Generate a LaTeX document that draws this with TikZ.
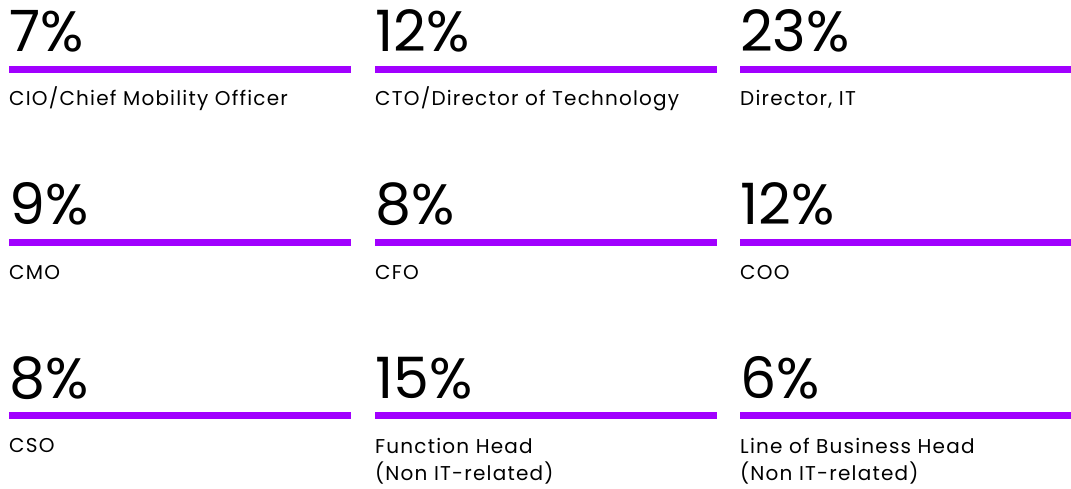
\documentclass[tikz,border=0pt]{standalone}
\usepackage{fontspec}
\setmainfont{Poppins}
\newfontfamily\lblfont[LetterSpace=6]{Poppins}
\definecolor{accpurple}{HTML}{A100FF}
\begin{document}
\begin{tikzpicture}[x=1pt,y=-1pt,
  pct/.style={anchor=base west,inner sep=0pt,font=\fontsize{57}{60}\selectfont},
  lbl/.style={anchor=base west,inner sep=0pt,align=left,font=\lblfont\fontsize{20}{27}\selectfont},
  barfill/.style={fill=accpurple}]
\useasboundingbox (0,0) rectangle (1071,489);
% row 1
\node[pct] (p11) at (9,52) {7\%};
\node[pct] (p12) at (375,52) {12\%};
\node[pct] (p13) at (740,52) {23\%};
\fill[barfill] (9,66) rectangle (351,73);
\fill[barfill] (375,66) rectangle (717,73);
\fill[barfill] (740,66) rectangle (1071,73);
\node[lbl] (l11) at (9,106) {CIO/Chief Mobility Officer};
\node[lbl] (l12) at (375,106) {CTO/Director of Technology};
\node[lbl] (l13) at (740,106) {Director, IT};
% row 2
\node[pct] (p21) at (9,225) {9\%};
\node[pct] (p22) at (375,225) {8\%};
\node[pct] (p23) at (740,225) {12\%};
\fill[barfill] (9,239) rectangle (351,246);
\fill[barfill] (375,239) rectangle (717,246);
\fill[barfill] (740,239) rectangle (1071,246);
\node[lbl] (l21) at (9,279) {CMO};
\node[lbl] (l22) at (375,279) {CFO};
\node[lbl] (l23) at (740,279) {COO};
% row 3
\node[pct] (p31) at (9,398) {8\%};
\node[pct] (p32) at (375,398) {15\%};
\node[pct] (p33) at (740,398) {6\%};
\fill[barfill] (9,412) rectangle (351,419);
\fill[barfill] (375,412) rectangle (717,419);
\fill[barfill] (740,412) rectangle (1071,419);
\node[lbl] (l31) at (9,452) {CSO};
\node[lbl] (l32) at (375,480) {Function Head\\(Non IT-related)};
\node[lbl] (l33) at (740,480) {Line of Business Head\\(Non IT-related)};
\end{tikzpicture}
\end{document}
